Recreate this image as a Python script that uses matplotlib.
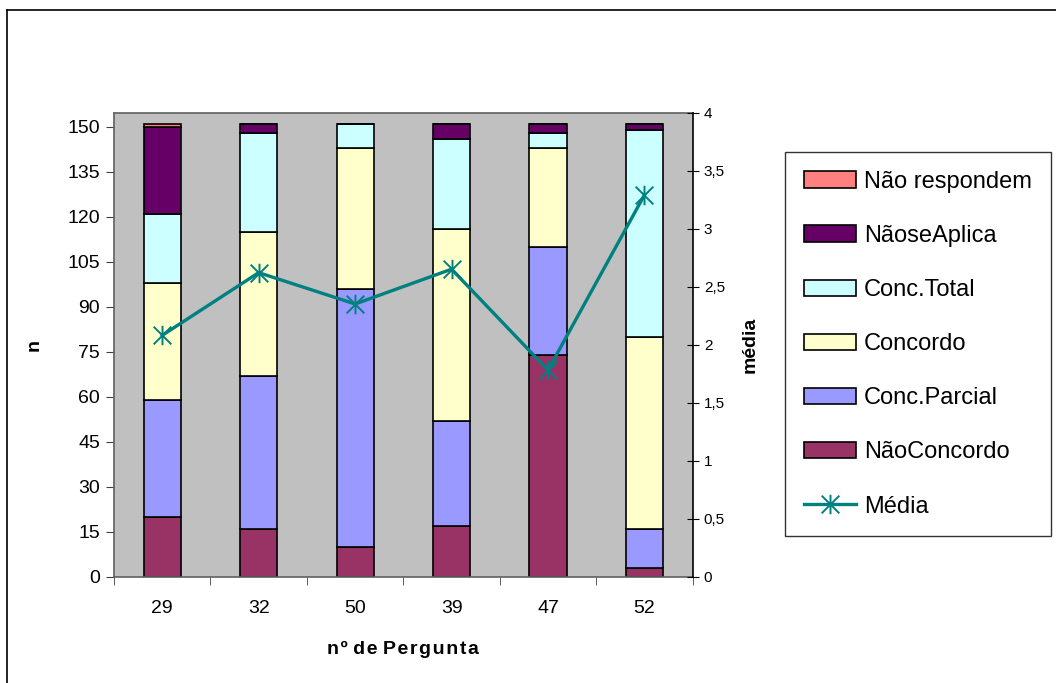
import numpy as np
import matplotlib
matplotlib.use("Agg")
import matplotlib.pyplot as plt
from matplotlib.path import Path
from matplotlib.lines import Line2D

plt.rcParams["font.family"] = ["Liberation Sans", "DejaVu Sans"]

# perguntas (ordem do eixo x)
perguntas = ["29", "32", "50", "39", "47", "52"]

# contagens por resposta, empilhadas de baixo para cima
nao_concordo = [20, 16, 10, 17, 74, 3]
conc_parcial = [39, 51, 86, 35, 36, 13]
concordo = [39, 48, 47, 64, 33, 64]
conc_total = [23, 33, 8, 30, 5, 69]
nao_se_aplica = [29, 3, 0, 5, 3, 2]
nao_respondem = [1, 0, 0, 0, 0, 0]

media = [2.08, 2.62, 2.35, 2.65, 1.78, 3.29]

series = [
    ("NãoConcordo", nao_concordo, "#993366"),
    ("Conc.Parcial", conc_parcial, "#9999FF"),
    ("Concordo", concordo, "#FFFFCC"),
    ("Conc.Total", conc_total, "#CCFFFF"),
    ("NãoseAplica", nao_se_aplica, "#660066"),
    ("Não respondem", nao_respondem, "#FF8080"),
]

W, H = 1056, 683
fig = plt.figure(figsize=(W / 100, H / 100), dpi=100)
ax = fig.add_axes([114 / W, 1 - 576.7 / H, (692.7 - 114) / W, (576.7 - 112.5) / H])
ax.set_facecolor("#C0C0C0")

x = np.arange(len(perguntas))
bottom = np.zeros(len(perguntas))
bars = []
for nome, vals, cor in series:
    b = ax.bar(x, vals, 0.385, bottom=bottom, color=cor, edgecolor="black",
               linewidth=1.2, label=nome, zorder=2)
    bars.append(b)
    bottom += np.array(vals)

ax.set_xlim(-0.5, len(perguntas) - 0.5)
ax.set_ylim(0, 154.7)
ax.set_yticks(np.arange(0, 151, 15))
ax.set_xticks(x)
ax.set_xticklabels(perguntas)
ax.set_xticks(np.arange(-0.5, len(perguntas), 1), minor=True)
ax.tick_params(axis="x", which="major", length=0, pad=17, labelsize=14)
ax.tick_params(axis="x", which="minor", length=6, direction="out", color="#404040")
ax.tick_params(axis="y", length=6, direction="out", labelsize=14, color="#404040", pad=4)
for s in ["left", "bottom", "top"]:
    ax.spines[s].set_color("#606060")
    ax.spines[s].set_linewidth(1.2)
ax.spines["right"].set_visible(False)

ax.set_xlabel("n º  d e  P e r g u n t a".replace("  ", "\u2009 ").replace(" ", "\u200a"),
              fontsize=14, fontweight="bold", labelpad=17)
ax.set_ylabel("n", fontsize=14, fontweight="bold", labelpad=18)

# eixo secundario para a media
ax2 = ax.twinx()
ax2.set_ylim(0, 4)
ticks2 = np.arange(0, 4.01, 0.5)
ax2.set_yticks(ticks2)
ax2.set_yticklabels([("%g" % t).replace(".", ",") for t in ticks2])
ax2.tick_params(axis="y", direction="inout", length=8, labelsize=11, pad=4)
for s in ["left", "bottom", "top"]:
    ax2.spines[s].set_visible(False)
ax2.spines["right"].set_color("black")
ax2.spines["right"].set_linewidth(1.2)
ax2.set_ylabel("média", fontsize=14, fontweight="bold", labelpad=12)

estrela = Path([(-1, -1), (1, 1), (-1, 1), (1, -1), (0, -1.1), (0, 1.1)],
               [Path.MOVETO, Path.LINETO, Path.MOVETO, Path.LINETO, Path.MOVETO, Path.LINETO])
linha, = ax2.plot(x, media, color="#008080", linewidth=2.4, marker=estrela,
                  markersize=14, markeredgewidth=1.4, markeredgecolor="#008080",
                  label="Média", zorder=3)

handles = bars[::-1] + [linha]
labels = [s[0] for s in series[::-1]] + ["Média"]
fig.legend(handles, labels, loc="upper left", bbox_to_anchor=(785 / W, 1 - 152 / H),
           borderaxespad=0, fontsize=17, frameon=True, fancybox=False,
           edgecolor="black", borderpad=0.8, labelspacing=1.36,
           handlelength=2.2, handletextpad=0.35)

# moldura da area do grafico
fig.add_artist(Line2D([7 / W, 7 / W], [0, 1 - 10 / H], color="black", linewidth=1.2))
fig.add_artist(Line2D([7 / W, 1], [1 - 10 / H, 1 - 10 / H], color="black", linewidth=1.2))

fig.savefig("out.png", dpi=100)
